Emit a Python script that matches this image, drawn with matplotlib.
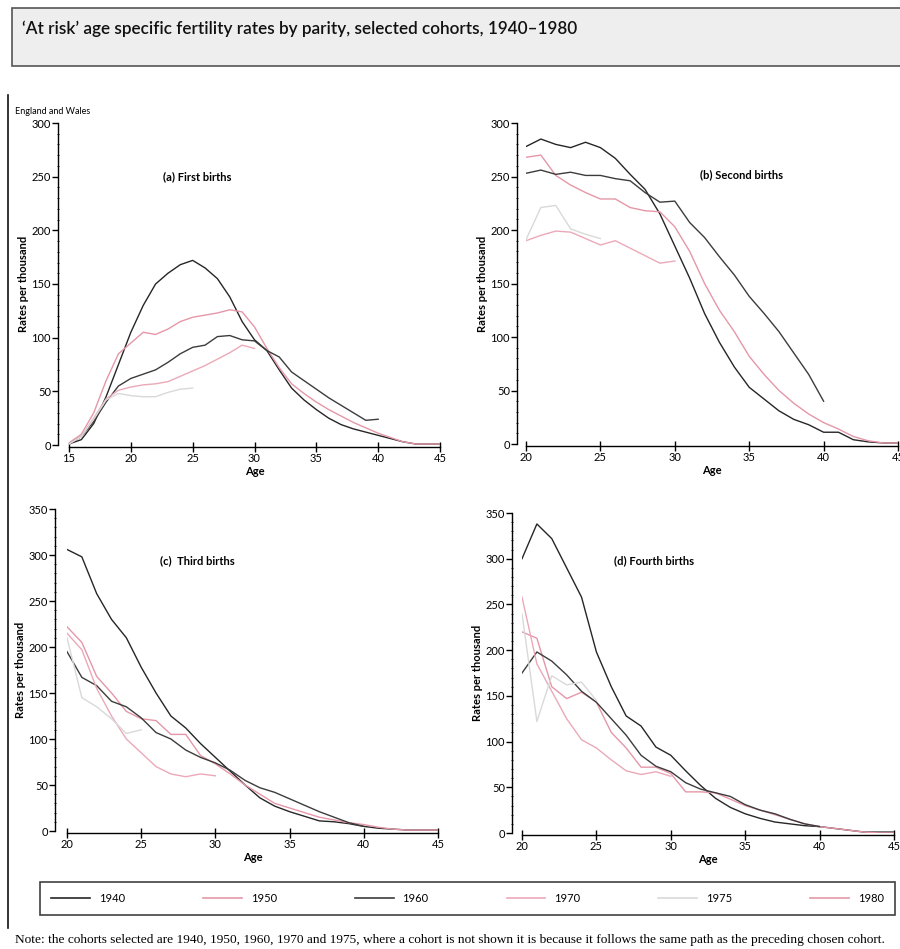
import numpy as np
import matplotlib
matplotlib.use('Agg')
import matplotlib.pyplot as plt
from matplotlib.patches import Rectangle
from matplotlib.lines import Line2D
from matplotlib.ticker import MultipleLocator

plt.rcParams['font.family'] = ['Lato', 'DejaVu Sans']

W, H = 900, 949

cohorts = ['1940', '1950', '1960', '1970', '1975', '1980']
colours = {'1940': '#262626', '1950': '#e597a8', '1960': '#3c3c3c',
           '1970': '#eba9b8', '1975': '#d9d9d9', '1980': '#e597a8'}

# (a) first births, ages 15-45
age_a = list(range(15, 46))
first_1940 = [1, 5, 20, 45, 75, 105, 130, 150, 160, 168, 172, 165, 155, 138, 115,
              98, 88, 70, 53, 42, 33, 25, 19, 15, 12, 9, 6, 3, 1, 1, 1]
first_1950 = [2, 10, 30, 60, 85, 95, 105, 103, 108, 115, 119, 121, 123, 126, 124,
              110, 90, 72, 57, 48, 40, 33, 27, 21, 16, 11, 7, 3, 1, 1, 1]
first_1960 = [1, 8, 22, 40, 55, 62, 66, 70, 77, 85, 91, 93, 101, 102, 98,
              97, 88, 82, 68, 60, 52, 44, 37, 30, 23, 24]
first_1970 = [1, 8, 25, 43, 51, 54, 56, 57, 59, 64, 69, 74, 80, 86, 93, 90]
first_1975 = [1, 8, 24, 42, 48, 46, 45, 45, 49, 52, 53]

# (b) second births, ages 20-45
age_b = list(range(20, 46))
second_1940 = [278, 285, 280, 277, 282, 277, 267, 252, 238, 215, 185, 155, 122,
               95, 72, 53, 42, 31, 23, 18, 11, 11, 4, 2, 1, 1]
second_1950 = [268, 270, 251, 242, 235, 229, 229, 221, 218, 217, 203, 180, 150,
               125, 105, 82, 65, 50, 38, 28, 20, 14, 7, 3, 1, 1]
second_1960 = [253, 256, 252, 254, 251, 251, 248, 246, 235, 226, 227, 207, 193,
               175, 158, 138, 122, 105, 85, 65, 40]
second_1970 = [190, 195, 199, 198, 192, 186, 190, 183, 176, 169, 171]
second_1975 = [191, 221, 223, 201, 196, 192]

# (c) third births
third_1940 = [306, 298, 258, 230, 210, 178, 150, 125, 112, 95, 80, 65, 50,
              36, 27, 21, 16, 11, 10, 8, 5, 3, 2, 1, 1, 1]
third_1950 = [222, 205, 168, 150, 130, 122, 120, 105, 105, 82, 73, 62, 50,
              40, 30, 25, 20, 15, 12, 9, 7, 4, 2, 1, 1, 1]
third_1960 = [195, 167, 158, 141, 135, 123, 107, 100, 88, 80, 74, 66, 55,
              47, 42, 35, 28, 21, 15, 9, 5]
third_1970 = [215, 197, 155, 125, 100, 85, 70, 62, 59, 62, 60]
third_1975 = [210, 145, 135, 122, 106, 110]

# (d) fourth births
fourth_1940 = [300, 338, 322, 290, 258, 198, 160, 128, 117, 94, 85, 68, 52,
               38, 28, 21, 16, 12, 10, 8, 7, 5, 3, 1, 1, 1]
fourth_1950 = [220, 213, 160, 147, 154, 143, 110, 93, 72, 72, 65, 45, 45,
               44, 37, 30, 25, 20, 15, 10, 7, 5, 3, 1, 0, 0]
fourth_1960 = [175, 198, 188, 173, 155, 143, 125, 107, 85, 73, 67, 55, 48,
               44, 40, 31, 25, 21, 15, 10, 7]
fourth_1970 = [258, 185, 155, 125, 102, 93, 80, 68, 64, 67, 62]
fourth_1975 = [240, 122, 172, 162, 165, 145]

panels = [
    ('(a) First births', age_a, {'1940': first_1940, '1950': first_1950, '1960': first_1960,
                                  '1970': first_1970, '1975': first_1975},
     (15, 45), 300, (69, 440, 123, 445), 11, (25.4, 250)),
    ('(b) Second births', age_b, {'1940': second_1940, '1950': second_1950, '1960': second_1960,
                                   '1970': second_1970, '1975': second_1975},
     (20, 45), 300, (526, 898, 123, 444), 9, (34.5, 252)),
    ('(c)  Third births', age_b, {'1940': third_1940, '1950': third_1950, '1960': third_1960,
                                   '1970': third_1970, '1975': third_1975},
     (20, 45), 350, (67, 438, 509, 831), 12, (28.8, 294)),
    ('(d) Fourth births', age_b, {'1940': fourth_1940, '1950': fourth_1950, '1960': fourth_1960,
                                   '1970': fourth_1970, '1975': fourth_1975},
     (20, 45), 350, (522, 894, 513, 833), 10, (28.9, 298)),
]

fig = plt.figure(figsize=(W / 100, H / 100), dpi=100)

# title box
fig.patches.append(Rectangle((12 / W, 1 - 66 / H), (W - 11) / W, 58 / H, transform=fig.transFigure,
                             facecolor='#eeeeee', edgecolor='#555555', linewidth=1.2))
fig.text(22 / W, 1 - 29 / H, '\u2018At risk\u2019 age specific fertility rates by parity, selected cohorts, 1940\u20131980',
         fontsize=12.3, fontweight='semibold', va='center', ha='left', color='#111111')

# left frame line
fig.add_artist(Line2D([8 / W, 8 / W], [1 - 95 / H, 1 - 928 / H], transform=fig.transFigure,
                      color='#111111', linewidth=1.2))
fig.text(15 / W, 1 - 112 / H, 'England and Wales', fontsize=6.5, va='center', ha='left')

for title, ages, series, xlim, ymax, (x0, x1, ytop, ybot), off, tpos in panels:
    ax = fig.add_axes([x0 / W, 1 - ybot / H, (x1 - x0) / W, (ybot - ytop) / H])
    for c in ['1940', '1950', '1960', '1970', '1975']:
        vals = series[c]
        ax.plot(ages[:len(vals)], vals, color=colours[c], linewidth=1.0)
    ax.set_xlim(*xlim)
    ax.set_ylim(0, ymax)
    for s in ['top', 'right']:
        ax.spines[s].set_visible(False)
    ax.spines['left'].set_position(('outward', off * 0.72))
    ax.spines['bottom'].set_position(('outward', 1.5))
    ax.spines['bottom'].set_bounds(xlim[0], xlim[1])
    ax.spines['left'].set_linewidth(1.0)
    ax.spines['bottom'].set_linewidth(1.0)
    ax.xaxis.set_major_locator(MultipleLocator(5))
    ax.yaxis.set_major_locator(MultipleLocator(50))
    ax.yaxis.set_minor_locator(MultipleLocator(10))
    ax.tick_params(axis='x', direction='inout', length=7, width=1, labelsize=8, pad=1)
    ax.tick_params(axis='y', direction='out', length=4, width=1, labelsize=8, pad=1)
    ax.tick_params(axis='y', which='minor', direction='inout', length=2, width=0.6)
    ax.set_xlabel('Age', fontsize=8, fontweight='bold', labelpad=1)
    ax.set_ylabel('Rates per thousand', fontsize=8, fontweight='bold', labelpad=2)
    ax.text(tpos[0], tpos[1], title, fontsize=8, fontweight='bold', ha='center', va='center')
    ax.patch.set_alpha(0)

handles = [Line2D([], [], color=colours[c], linewidth=1.2) for c in cohorts]
leg = fig.legend(handles, cohorts, loc='lower left', ncol=6, mode='expand',
                 bbox_to_anchor=(40 / W, 1 - 915 / H, 855 / W, 38 / H),
                 frameon=True, fancybox=False, edgecolor='#111111', fontsize=8,
                 handlelength=3.5, borderaxespad=0, borderpad=1.0)
leg.get_frame().set_linewidth(1.2)

fig.text(15 / W, 1 - 940 / H,
         'Note: the cohorts selected are 1940, 1950, 1960, 1970 and 1975, where a cohort is not shown '
         'it is because it follows the same path as the preceding chosen cohort.',
         fontsize=9.6, family=['Liberation Serif', 'DejaVu Serif'], va='center', ha='left')

fig.savefig('out.png', dpi=100)
